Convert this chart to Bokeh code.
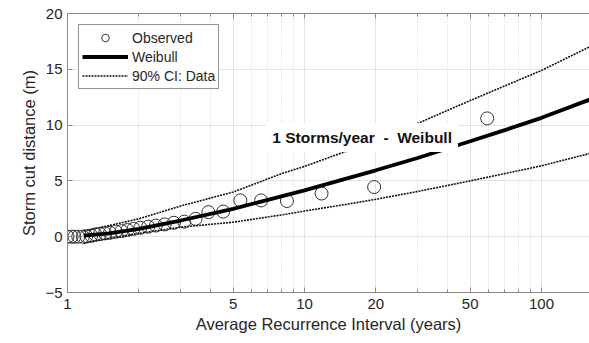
from bokeh.plotting import figure
from bokeh.models import (FixedTicker, LogAxis, Label, Legend, LegendItem,
                          ColumnDataSource, Range1d)
from bokeh.embed import file_html
from bokeh.resources import INLINE

# Observed storm cut distances vs average recurrence interval
obs_T = [59.0, 19.67, 11.8, 8.43, 6.56, 5.36, 4.54, 3.93, 3.47, 3.11,
         2.81, 2.57, 2.36, 2.19, 2.03, 1.90, 1.79, 1.69, 1.60, 1.51,
         1.44, 1.37, 1.31, 1.26, 1.20, 1.16, 1.11, 1.07, 1.04, 1.00]
obs_y = [10.6, 4.45, 3.87, 3.2, 3.25, 3.25, 2.25, 2.2, 1.6, 1.35,
         1.25, 1.1, 1.0, 0.9, 0.8, 0.7, 0.6, 0.5, 0.45, 0.35,
         0.3, 0.25, 0.2, 0.1, 0.05, 0.0, 0.0, 0.0, 0.0, 0.0]

# Weibull fit
wb_T = [1.17, 1.5, 2, 3, 5, 7, 10, 15, 20, 30, 50, 70, 100, 170]
wb_y = [0.1, 0.3, 0.7, 1.45, 2.5, 3.3, 4.15, 5.2, 5.95, 7.05, 8.55, 9.55, 10.65, 12.5]

# 90% confidence interval
ci_T = [1.17, 1.5, 2, 3, 5, 8, 10, 15, 20, 30, 50, 100, 170]
ci_hi = [0.5, 1.0, 1.6, 2.75, 4.0, 5.65, 6.3, 7.65, 8.6, 10.15, 12.2, 14.9, 17.3]
ci_lo = [-0.6, -0.15, 0.3, 0.85, 1.3, 1.95, 2.3, 2.9, 3.35, 4.05, 5.0, 6.35, 7.6]

x_major = [1, 5, 10, 20, 50, 100]
x_minor = [2, 3, 4, 6, 7, 8, 9, 30, 40, 60, 70, 80, 90, 200]
y_ticks = [-5, 0, 5, 10, 15, 20]

FONT = "Liberation Sans"
TXT = "#262626"
AX = "#8a8a8a"

p = figure(width=589, height=343, x_axis_type="log",
           x_range=Range1d(1, 159.4), y_range=Range1d(-5, 20),
           output_backend="svg", toolbar_location=None,
           min_border_left=67, min_border_right=0, min_border_top=13,
           min_border_bottom=51)
p.outline_line_color = None
p.background_fill_color = "white"

xt = FixedTicker(ticks=x_major, minor_ticks=x_minor)
yt = FixedTicker(ticks=y_ticks)
p.xaxis.ticker = xt
p.yaxis.ticker = yt
p.xaxis.major_label_overrides = {v: str(v) for v in x_major}

for ax in (p.xaxis[0], p.yaxis[0]):
    ax.axis_line_color = AX
    ax.major_tick_line_color = AX
    ax.minor_tick_line_color = AX
    ax.major_tick_in = 5
    ax.major_tick_out = 0
    ax.minor_tick_in = 3
    ax.minor_tick_out = 0
    ax.major_label_text_font = FONT
    ax.major_label_text_font_size = "15px"
    ax.major_label_text_color = TXT
    ax.axis_label_text_font = FONT
    ax.axis_label_text_font_size = "16.5px"
    ax.axis_label_text_font_style = "normal"
    ax.axis_label_text_color = TXT
p.yaxis.minor_tick_line_color = None
p.xaxis.axis_label = "Average Recurrence Interval (years)"
p.yaxis.axis_label = "Storm cut distance (m)"
p.xaxis.major_label_standoff = 6
p.xaxis.axis_label_standoff = 3
p.yaxis.major_label_standoff = 5
p.yaxis.axis_label_standoff = 4

top = LogAxis(ticker=xt, axis_line_color=AX, major_tick_line_color=AX,
              minor_tick_line_color=AX, major_tick_in=5, major_tick_out=0,
              minor_tick_in=3, minor_tick_out=0, major_label_standoff=0,
              major_label_text_font_size="1px", major_label_text_alpha=0)
p.add_layout(top, "above")

p.xgrid.grid_line_color = "#e3e3e3"
p.xgrid.minor_grid_line_color = "#d0d0d0"
p.xgrid.minor_grid_line_dash = "1 2"
p.ygrid.grid_line_color = "#e3e3e3"

obs_src = ColumnDataSource(dict(x=obs_T, y=obs_y))
wb_src = ColumnDataSource(dict(x=wb_T, y=wb_y))
hi_src = ColumnDataSource(dict(x=ci_T, y=ci_hi))
lo_src = ColumnDataSource(dict(x=ci_T, y=ci_lo))

r_obs = p.scatter("x", "y", source=obs_src, marker="circle", size=13,
                  fill_color=None, line_color="#333333", line_width=1)
r_wb = p.line("x", "y", source=wb_src, line_color="black", line_width=3.8)
r_hi = p.line("x", "y", source=hi_src, line_color="#111111", line_width=1.6,
              line_dash="2 1")
r_lo = p.line("x", "y", source=lo_src, line_color="#111111", line_width=1.6,
              line_dash="2 1")

lbl = Label(x=17.5, y=8.9,
            text="1 Storms/year\u00a0\u00a0-\u00a0\u00a0Weibull",
            text_font=FONT, text_font_size="15.5px", text_font_style="bold",
            text_color="#111111", text_align="center", text_baseline="middle",
            background_fill_color="white", padding=6)
p.add_layout(lbl)

legend = Legend(items=[LegendItem(label="Observed", renderers=[r_obs]),
                       LegendItem(label="Weibull", renderers=[r_wb]),
                       LegendItem(label="90% CI: Data", renderers=[r_hi])],
                location="top_left", margin=11, padding=3, spacing=0,
                glyph_width=46, glyph_height=19, label_height=19,
                label_standoff=4, label_text_font=FONT,
                label_text_font_size="14px", label_text_color=TXT,
                border_line_color="#262626", border_line_width=1,
                background_fill_alpha=1)
p.add_layout(legend)

open("out.html", "w").write(file_html(p, INLINE))
